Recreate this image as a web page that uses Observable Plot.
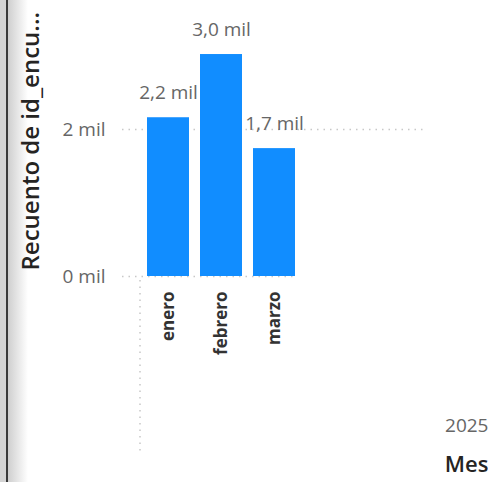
<!DOCTYPE html>
<html>
<head>
<meta charset="utf-8">
<script src="https://cdn.jsdelivr.net/npm/d3@7"></script>
<script src="https://cdn.jsdelivr.net/npm/@observablehq/plot@0.6"></script>
<style>
  html, body { margin: 0; padding: 0; background: #fff; }
  #wrap { position: relative; width: 488px; height: 482px; overflow: hidden; background: #fff; }
  #edge { position: absolute; left: 0; top: 0; width: 28px; height: 482px;
    background: linear-gradient(to right, #d4d4d4 0px, #d4d4d4 6px, #3a3a3a 6px, #3a3a3a 8px, #cfcfcf 8px, #ffffff 28px); }
  #chart { position: absolute; left: 0; top: 0; }
  text { font-family: "Open Sans", "Segoe UI", sans-serif; }
</style>
</head>
<body>
<div id="wrap"><div id="edge"></div><div id="chart"></div></div>
<script>
// Recuento de encuestas por mes, 2025
const meses = ["enero", "febrero", "marzo"];
const recuento = [2160, 3020, 1740];
const yTicks = [0, 2000];
const yTitle = "Recuento de id_encu...";
const anio = "2025";
const xTitle = "Mes";

const data = meses.map((mes, i) => ({mes, valor: recuento[i]}));
const mil = v => `${(v / 1000).toFixed(1).replace(".", ",")} mil`;

const W = 488, H = 482;
const chart = Plot.plot({
  width: W,
  height: H,
  marginTop: 0,
  marginRight: 0,
  marginBottom: 206,
  marginLeft: 122,
  style: {fontFamily: "'Open Sans', sans-serif", background: "transparent", overflow: "visible"},
  x: {domain: meses, range: [140, 303], paddingInner: 0.2, paddingOuter: 0.11, axis: null},
  y: {domain: [0, 3000], range: [276, 55.5], axis: null},
  marks: [
    // gridlines
    Plot.ruleY([2000], {stroke: "#c8c8c8", strokeWidth: 1.5, strokeDasharray: "1.5,5", insetRight: 63}),
    Plot.ruleY([0], {stroke: "#c8c8c8", strokeWidth: 1.5, strokeDasharray: "1.5,5", insetRight: 191}),
    // y tick labels
    Plot.axisY({ticks: yTicks, tickSize: 0, tickPadding: 17, tickFormat: d => `${d / 1000} mil`,
      fontSize: 19, color: "#666666", label: null}),
    // bars
    Plot.barY(data, {x: "mes", y: "valor", fill: "#118DFF"}),
    // value labels
    Plot.text(data, {x: "mes", y: "valor", text: d => mil(d.valor), dy: -25,
      fontSize: 19, fill: "#666666"}),
    // month labels
    Plot.axisX({tickSize: 0, tickPadding: 15, tickRotate: -90, fontSize: 17, fontWeight: 700,
      color: "#333333", label: null}),
    // y axis title
    Plot.text([yTitle], {frameAnchor: "bottom-left", dx: -84, dy: -6, rotate: -90, textAnchor: "start",
      fontSize: 24, fontWeight: 600, fill: "#252423"}),
    // year level label and axis title
    Plot.text([anio], {frameAnchor: "bottom-right", dy: 155, textAnchor: "end", fontSize: 19, fill: "#666666"}),
    Plot.text([xTitle], {frameAnchor: "bottom-right", dy: 195, textAnchor: "end", fontSize: 22, fontWeight: 600, fill: "#252423"})
  ]
});

// dotted separator of the month level, aligned to the start of the x range
const xr = chart.scale("x").range;
d3.select(chart).append("line")
  .attr("x1", xr[0]).attr("x2", xr[0])
  .attr("y1", 280).attr("y2", 452)
  .attr("stroke", "#c8c8c8").attr("stroke-width", 1.5).attr("stroke-dasharray", "1.5,5");

document.getElementById("chart").appendChild(chart);
</script>
</body>
</html>
